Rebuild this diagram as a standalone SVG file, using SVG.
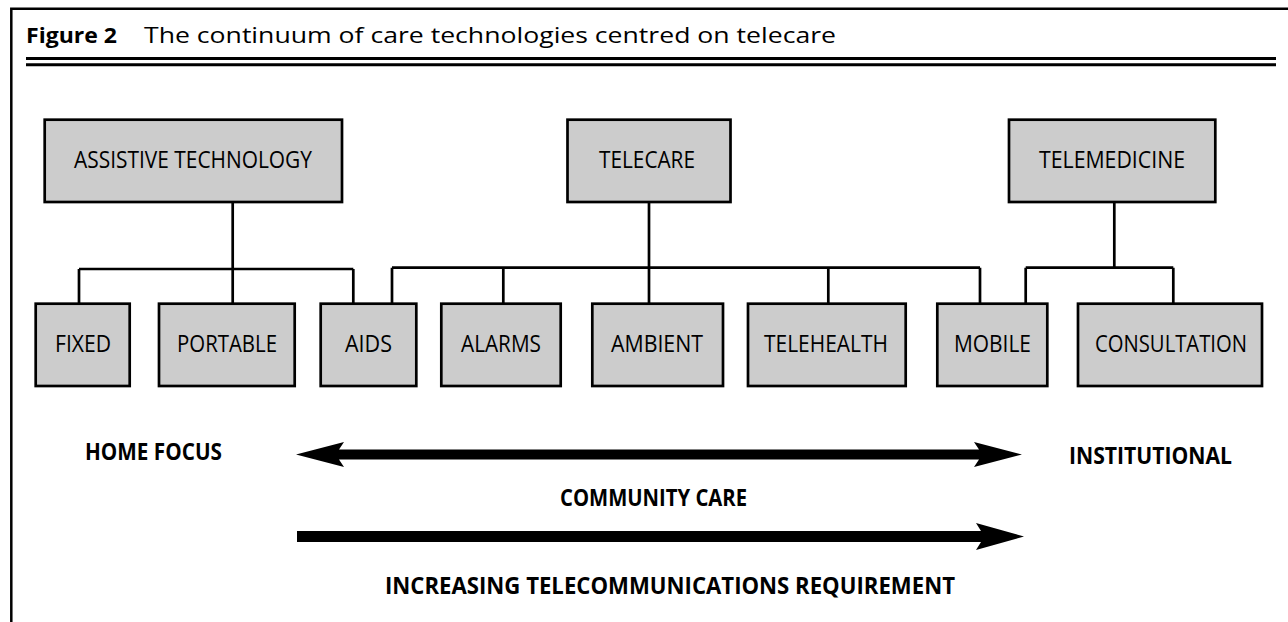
<svg xmlns="http://www.w3.org/2000/svg" width="1288" height="622" viewBox="0 0 1288 622">
  <style>
    .node rect { fill: #cccccc; stroke: #000000; stroke-width: 2.7; }
    .node text { font-family: "Open Sans", "Noto Sans", "Liberation Sans", sans-serif; font-size: 24px; fill: #000000; }
    .link { fill: none; stroke: #000000; stroke-width: 2.7; stroke-linecap: butt; }
    .frame { fill: none; stroke: #000000; stroke-width: 2.5; }
    .rule { fill: none; stroke: #000000; stroke-width: 3; }
    .label { font-family: "Open Sans", "Noto Sans", "Liberation Sans", sans-serif; font-size: 23px; font-weight: bold; fill: #000000; }
    .title { font-family: "Open Sans", "Noto Sans", "Liberation Sans", sans-serif; font-size: 22px; fill: #000000; }
    .arrow { fill: #000000; stroke: none; }
  </style>
  <rect x="0" y="0" width="1288" height="622" fill="#ffffff"/>

  <!-- frame and caption -->
  <g id="frame">
    <path class="frame" d="M11.3,622 V8.7 H1288"/>
    <line class="rule" x1="26" y1="58.5" x2="1276" y2="58.5"/>
    <line class="rule" x1="26" y1="64.8" x2="1276" y2="64.8"/>
    <text class="title" x="26" y="43" font-weight="bold" textLength="91" lengthAdjust="spacingAndGlyphs">Figure 2</text>
    <text class="title" x="144" y="43" textLength="692" lengthAdjust="spacingAndGlyphs">The continuum of care technologies centred on telecare</text>
  </g>

  <!-- connectors -->
  <g id="connectors">
    <path class="link" d="M232.7,202 V269 M79,269 H353.3 M79,269 V303.7 M232.7,269 V303.7 M353.3,269 V303.7"/>
    <path class="link" d="M649,202 V267.7 M392,267.7 H980 M392,267.7 V303.7 M503.3,267.7 V303.7 M649,267.7 V303.7 M828.3,267.7 V303.7 M980,267.7 V303.7"/>
    <path class="link" d="M1114.3,202 V267.7 M1025.7,267.7 H1173.3 M1025.7,267.7 V303.7 M1173.3,267.7 V303.7"/>
  </g>

  <!-- upper tier -->
  <g id="assistive-technology" class="node">
    <rect x="44.7" y="119.7" width="297.3" height="82.3"/>
    <text x="74" y="168.3" textLength="238" lengthAdjust="spacingAndGlyphs">ASSISTIVE TECHNOLOGY</text>
  </g>
  <g id="telecare" class="node">
    <rect x="567.5" y="119.7" width="163" height="82.3"/>
    <text x="599" y="168.3" textLength="96" lengthAdjust="spacingAndGlyphs">TELECARE</text>
  </g>
  <g id="telemedicine" class="node">
    <rect x="1009" y="119.7" width="206.3" height="82.3"/>
    <text x="1039" y="168.3" textLength="146" lengthAdjust="spacingAndGlyphs">TELEMEDICINE</text>
  </g>

  <!-- lower tier -->
  <g id="fixed" class="node">
    <rect x="35.7" y="303.7" width="94" height="82.3"/>
    <text x="55" y="352" textLength="56" lengthAdjust="spacingAndGlyphs">FIXED</text>
  </g>
  <g id="portable" class="node">
    <rect x="159" y="303.7" width="135.7" height="82.3"/>
    <text x="177" y="352" textLength="100" lengthAdjust="spacingAndGlyphs">PORTABLE</text>
  </g>
  <g id="aids" class="node">
    <rect x="320.7" y="303.7" width="95.6" height="82.3"/>
    <text x="345" y="352" textLength="47" lengthAdjust="spacingAndGlyphs">AIDS</text>
  </g>
  <g id="alarms" class="node">
    <rect x="441.3" y="303.7" width="119.4" height="82.3"/>
    <text x="461" y="352" textLength="80" lengthAdjust="spacingAndGlyphs">ALARMS</text>
  </g>
  <g id="ambient" class="node">
    <rect x="592.3" y="303.7" width="130.7" height="82.3"/>
    <text x="611" y="352" textLength="92" lengthAdjust="spacingAndGlyphs">AMBIENT</text>
  </g>
  <g id="telehealth" class="node">
    <rect x="748" y="303.7" width="157.7" height="82.3"/>
    <text x="764" y="352" textLength="124" lengthAdjust="spacingAndGlyphs">TELEHEALTH</text>
  </g>
  <g id="mobile" class="node">
    <rect x="937.3" y="303.7" width="110" height="82.3"/>
    <text x="954" y="352" textLength="77" lengthAdjust="spacingAndGlyphs">MOBILE</text>
  </g>
  <g id="consultation" class="node">
    <rect x="1078" y="303.7" width="184" height="82.3"/>
    <text x="1095" y="352" textLength="152" lengthAdjust="spacingAndGlyphs">CONSULTATION</text>
  </g>

  <!-- care-setting scale -->
  <g id="community-care-scale">
    <path class="arrow" d="M296,454.5 L344,442 L339,449.5 L979,449.5 L974,442 L1022,454.5 L974,467 L979,459.5 L339,459.5 L344,467 Z"/>
    <text class="label" x="85" y="460" textLength="137" lengthAdjust="spacingAndGlyphs">HOME FOCUS</text>
    <text class="label" x="1069" y="464" textLength="163" lengthAdjust="spacingAndGlyphs">INSTITUTIONAL</text>
    <text class="label" x="560" y="506" textLength="187" lengthAdjust="spacingAndGlyphs">COMMUNITY CARE</text>
  </g>
  <g id="telecommunications-scale">
    <path class="arrow" d="M297,531 L981,531 L976,523 L1024,536.5 L976,550 L981,542 L297,542 Z"/>
    <text class="label" x="385" y="594" textLength="570" lengthAdjust="spacingAndGlyphs">INCREASING TELECOMMUNICATIONS REQUIREMENT</text>
  </g>
</svg>
